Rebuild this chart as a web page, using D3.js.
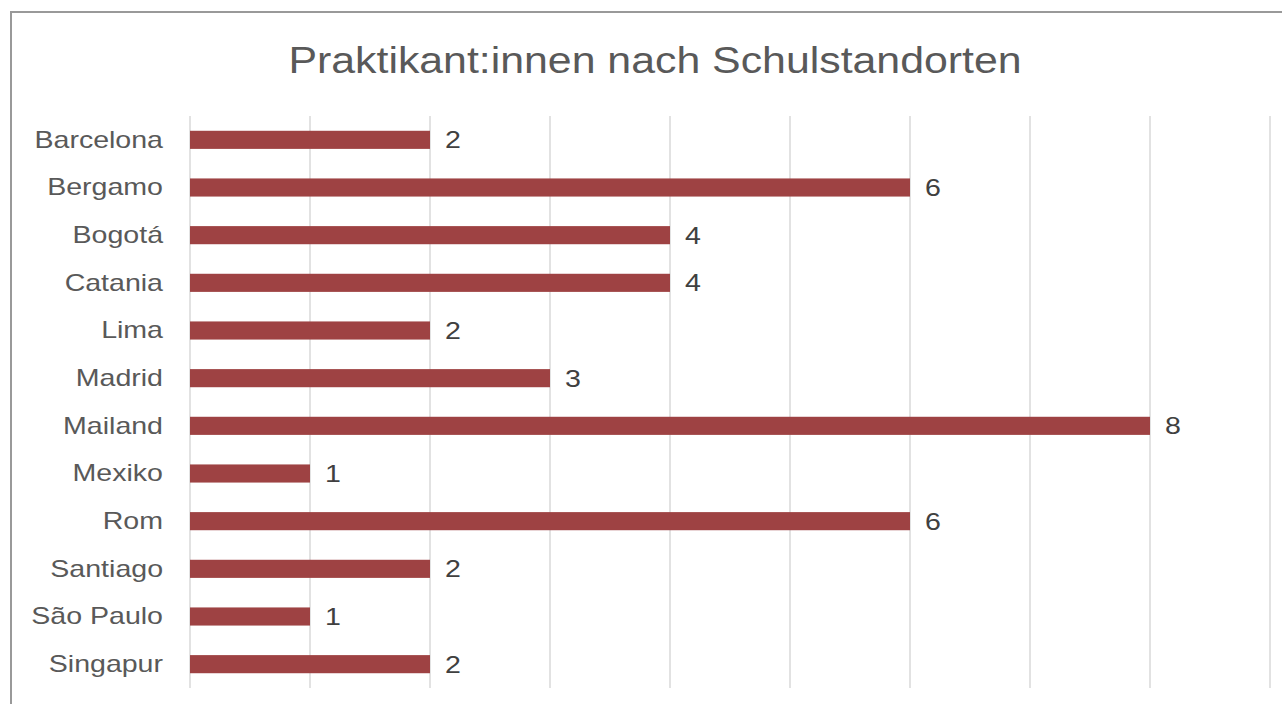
<!DOCTYPE html>
<html>
<head>
<meta charset="utf-8">
<script src="https://cdn.jsdelivr.net/npm/d3@7"></script>
<style>
  body { margin: 0; background: #fff; }
  svg { display: block; font-family: "Liberation Sans", Arial, sans-serif; }
</style>
</head>
<body>
<svg id="chart"></svg>
<script>
// Data
const title = 'Praktikant:innen nach Schulstandorten';
const cities = ['Barcelona', 'Bergamo', 'Bogotá', 'Catania', 'Lima', 'Madrid',
  'Mailand', 'Mexiko', 'Rom', 'Santiago', 'São Paulo', 'Singapur'];
const counts = [2, 6, 4, 4, 2, 3, 8, 1, 6, 2, 1, 2];
const xTicks = [0, 1, 2, 3, 4, 5, 6, 7, 8, 9];

const width = 1282, height = 704;
const margin = { top: 116, right: 12, bottom: 16, left: 190 };
const innerW = 1270 - margin.left;
const innerH = 688 - margin.top;
// the reference text is a bit wider than Liberation Sans
const stretch = 1.19;

const svg = d3.select('#chart')
  .attr('width', width)
  .attr('height', height);

// outer frame
svg.append('rect')
  .attr('x', 11).attr('y', 12)
  .attr('width', 1300).attr('height', 720)
  .attr('fill', '#fff')
  .attr('stroke', '#999')
  .attr('stroke-width', 2);

const g = svg.append('g')
  .attr('transform', `translate(${margin.left},${margin.top})`);

const x = d3.scaleLinear().domain([0, 9]).range([0, innerW]);
const y = d3.scaleBand().domain(cities).range([0, innerH]).paddingInner(0.62).paddingOuter(0.31);

// gridlines
g.selectAll('.grid')
  .data(xTicks)
  .enter().append('line')
  .attr('class', 'grid')
  .attr('x1', d => x(d)).attr('x2', d => x(d))
  .attr('y1', 0).attr('y2', innerH)
  .attr('stroke', '#d9d9d9')
  .attr('stroke-width', 1.5);

// bars
g.selectAll('.bar')
  .data(cities)
  .enter().append('rect')
  .attr('class', 'bar')
  .attr('x', x(0))
  .attr('y', d => y(d))
  .attr('width', (d, i) => x(counts[i]) - x(0))
  .attr('height', y.bandwidth())
  .attr('fill', '#9e4243');

// value labels
g.selectAll('.value')
  .data(cities)
  .enter().append('text')
  .attr('class', 'value')
  .attr('transform', (d, i) => `translate(${x(counts[i]) + 15},${y(d) + y.bandwidth() / 2}) scale(${stretch},1)`)
  .attr('dy', '0.36em')
  .attr('fill', '#404040')
  .style('font-size', '24px')
  .text((d, i) => counts[i]);

// category axis
const yAxis = g.append('g')
  .call(d3.axisLeft(y).tickSize(0).tickPadding(27));
yAxis.select('.domain').remove();
yAxis.selectAll('text')
  .attr('x', -27 / stretch)
  .attr('transform', `scale(${stretch},1)`)
  .attr('fill', '#595959')
  .style('font-size', '24px')
  .style('font-family', '"Liberation Sans", Arial, sans-serif');

// title
svg.append('text')
  .attr('transform', `translate(655,73) scale(${stretch},1)`)
  .attr('text-anchor', 'middle')
  .attr('fill', '#595959')
  .style('font-size', '36px')
  .text(title);
</script>
</body>
</html>
